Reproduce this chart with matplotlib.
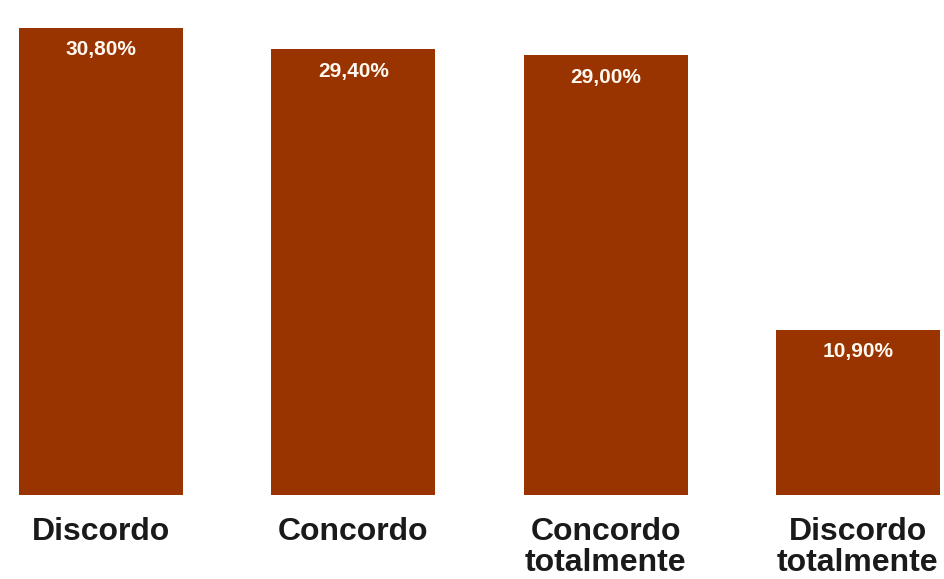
import matplotlib
matplotlib.use("Agg")
from matplotlib import pyplot as plt

categories = ['Discordo', 'Concordo', 'Concordo\ntotalmente', 'Discordo\ntotalmente']
values = [30.8, 29.4, 29.0, 10.9]
value_labels = ['30,80%', '29,40%', '29,00%', '10,90%']

plt.rcParams['font.family'] = ['Liberation Sans', 'DejaVu Sans']

fig = plt.figure(figsize=(9.44, 5.79), dpi=100)
ax = fig.add_axes([0, 84 / 579, 1, 495 / 579])

xs = list(range(len(categories)))
bars = ax.bar(xs, values, width=0.65, color='#993300')

for b, lab in zip(bars, value_labels):
    ax.annotate(lab, (b.get_x() + b.get_width() / 2, b.get_height()),
                xytext=(0, -9), textcoords='offset points',
                ha='center', va='top', color='#fff8f0',
                fontsize=15, fontweight='bold')

# pixel layout: bar centres at ~101 and ~858 px
ax.set_xlim(-101 / 252.3, (944 - 101) / 252.3)
ax.set_ylim(0, 30.8 * 495 / 467)
ax.set_xticks(xs)
ax.set_xticklabels(categories, fontsize=23, fontweight='bold',
                   color='#1a1a1a', linespacing=1.02)
ax.tick_params(axis='x', length=0, pad=16)
ax.set_yticks([])
for s in ax.spines.values():
    s.set_visible(False)

fig.savefig('out.png', dpi=100)
